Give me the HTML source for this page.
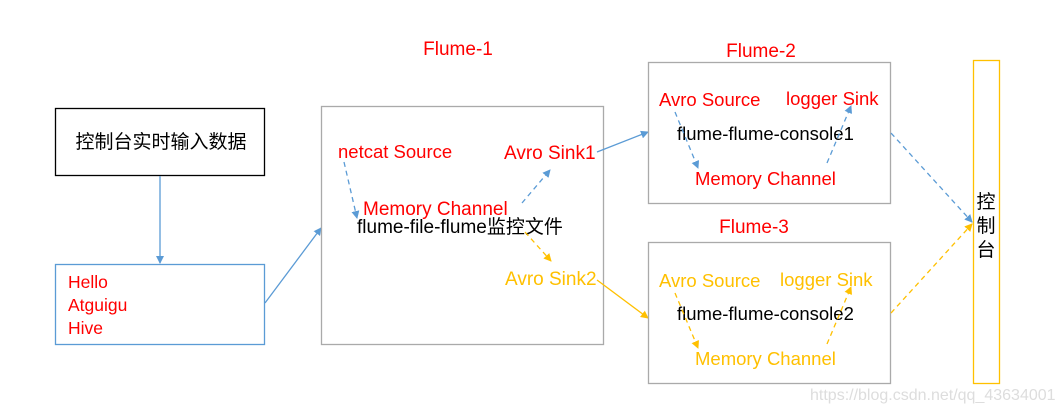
<!DOCTYPE html>
<html><head><style>
body{margin:0;background:#fff}
svg{display:block;font-family:"Liberation Sans","Noto Sans CJK SC",sans-serif}
</style></head><body>
<svg width="1061" height="412" viewBox="0 0 1061 412">
<defs>
<marker id="b" markerWidth="8" markerHeight="8" refX="7" refY="4" orient="auto" markerUnits="userSpaceOnUse"><path d="M0,0 L8,4 L0,8 z" fill="#5b9bd5"/></marker>
<marker id="o" markerWidth="8" markerHeight="8" refX="7" refY="4" orient="auto" markerUnits="userSpaceOnUse"><path d="M0,0 L8,4 L0,8 z" fill="#ffc000"/></marker>
</defs>
<rect x="55.5" y="108.5" width="209" height="67" fill="none" stroke="#000" stroke-width="1.3"/>
<text x="161" y="148" font-size="19" text-anchor="middle" fill="#000">控制台实时输入数据</text>
<rect x="55.5" y="264.5" width="209" height="80" fill="none" stroke="#5b9bd5" stroke-width="1.3"/>
<text x="68" y="288" font-size="17.5" fill="#f00">Hello</text>
<text x="68" y="311" font-size="17.5" fill="#f00">Atguigu</text>
<text x="68" y="334" font-size="17.5" fill="#f00">Hive</text>
<line x1="160" y1="176" x2="160" y2="263" stroke="#5b9bd5" stroke-width="1.3" marker-end="url(#b)"/>
<line x1="265" y1="303" x2="321" y2="228" stroke="#5b9bd5" stroke-width="1.3" marker-end="url(#b)"/>
<text x="458" y="55" font-size="19" text-anchor="middle" fill="#f00">Flume-1</text>
<rect x="321.5" y="106.5" width="282" height="238" fill="none" stroke="#aaa" stroke-width="1.3"/>
<text x="338" y="158" font-size="18.5" fill="#f00">netcat Source</text>
<text x="504" y="159" font-size="19" fill="#f00">Avro Sink1</text>
<text x="363" y="215" font-size="19" fill="#f00">Memory  Channel</text>
<text x="357" y="233" font-size="19" fill="#000">flume-file-flume监控文件</text>
<text x="505" y="285" font-size="19" fill="#ffc000">Avro Sink2</text>
<line x1="344" y1="162" x2="357" y2="218" stroke="#5b9bd5" stroke-width="1.3" stroke-dasharray="5,4" marker-end="url(#b)"/>
<line x1="522" y1="203" x2="550" y2="170" stroke="#5b9bd5" stroke-width="1.3" stroke-dasharray="5,4" marker-end="url(#b)"/>
<line x1="525" y1="232" x2="551" y2="261" stroke="#ffc000" stroke-width="1.3" stroke-dasharray="5,4" marker-end="url(#o)"/>
<line x1="597" y1="152" x2="648" y2="132" stroke="#5b9bd5" stroke-width="1.3" marker-end="url(#b)"/>
<line x1="597" y1="280" x2="648" y2="318" stroke="#ffc000" stroke-width="1.3" marker-end="url(#o)"/>
<text x="761" y="57" font-size="19" text-anchor="middle" fill="#f00">Flume-2</text>
<rect x="648.5" y="62.5" width="242" height="141" fill="none" stroke="#aaa" stroke-width="1.3"/>
<text x="659" y="106" font-size="18.5" fill="#f00">Avro Source</text>
<text x="786" y="105" font-size="18.5" fill="#f00">logger Sink</text>
<text x="677" y="140" font-size="18.5" fill="#000">flume-flume-console1</text>
<text x="695" y="185" font-size="18.5" fill="#f00">Memory Channel</text>
<line x1="675" y1="112" x2="698" y2="168" stroke="#5b9bd5" stroke-width="1.3" stroke-dasharray="5,4" marker-end="url(#b)"/>
<line x1="827" y1="163" x2="851" y2="106" stroke="#5b9bd5" stroke-width="1.3" stroke-dasharray="5,4" marker-end="url(#b)"/>
<text x="754" y="233" font-size="19" text-anchor="middle" fill="#f00">Flume-3</text>
<rect x="648.5" y="242.5" width="242" height="141" fill="none" stroke="#aaa" stroke-width="1.3"/>
<text x="659" y="287" font-size="18.5" fill="#ffc000">Avro Source</text>
<text x="780" y="286" font-size="18.5" fill="#ffc000">logger Sink</text>
<text x="677" y="320" font-size="18.5" fill="#000">flume-flume-console2</text>
<text x="695" y="365" font-size="18.5" fill="#ffc000">Memory Channel</text>
<line x1="675" y1="293" x2="698" y2="348" stroke="#ffc000" stroke-width="1.3" stroke-dasharray="5,4" marker-end="url(#o)"/>
<line x1="827" y1="344" x2="851" y2="287" stroke="#ffc000" stroke-width="1.3" stroke-dasharray="5,4" marker-end="url(#o)"/>
<rect x="973.5" y="60.5" width="26" height="323" fill="none" stroke="#ffc000" stroke-width="1.3"/>
<text x="986" y="208" font-size="19" text-anchor="middle" fill="#000">控</text>
<text x="986" y="232" font-size="19" text-anchor="middle" fill="#000">制</text>
<text x="986" y="256" font-size="19" text-anchor="middle" fill="#000">台</text>
<line x1="891" y1="133" x2="972" y2="222" stroke="#5b9bd5" stroke-width="1.3" stroke-dasharray="5,4" marker-end="url(#b)"/>
<line x1="891" y1="313" x2="972" y2="224" stroke="#ffc000" stroke-width="1.3" stroke-dasharray="5,4" marker-end="url(#o)"/>
<text x="810" y="400" font-size="16" fill="#ddd">https://blog.csdn.net/qq_43634001</text>
</svg>
</body></html>
